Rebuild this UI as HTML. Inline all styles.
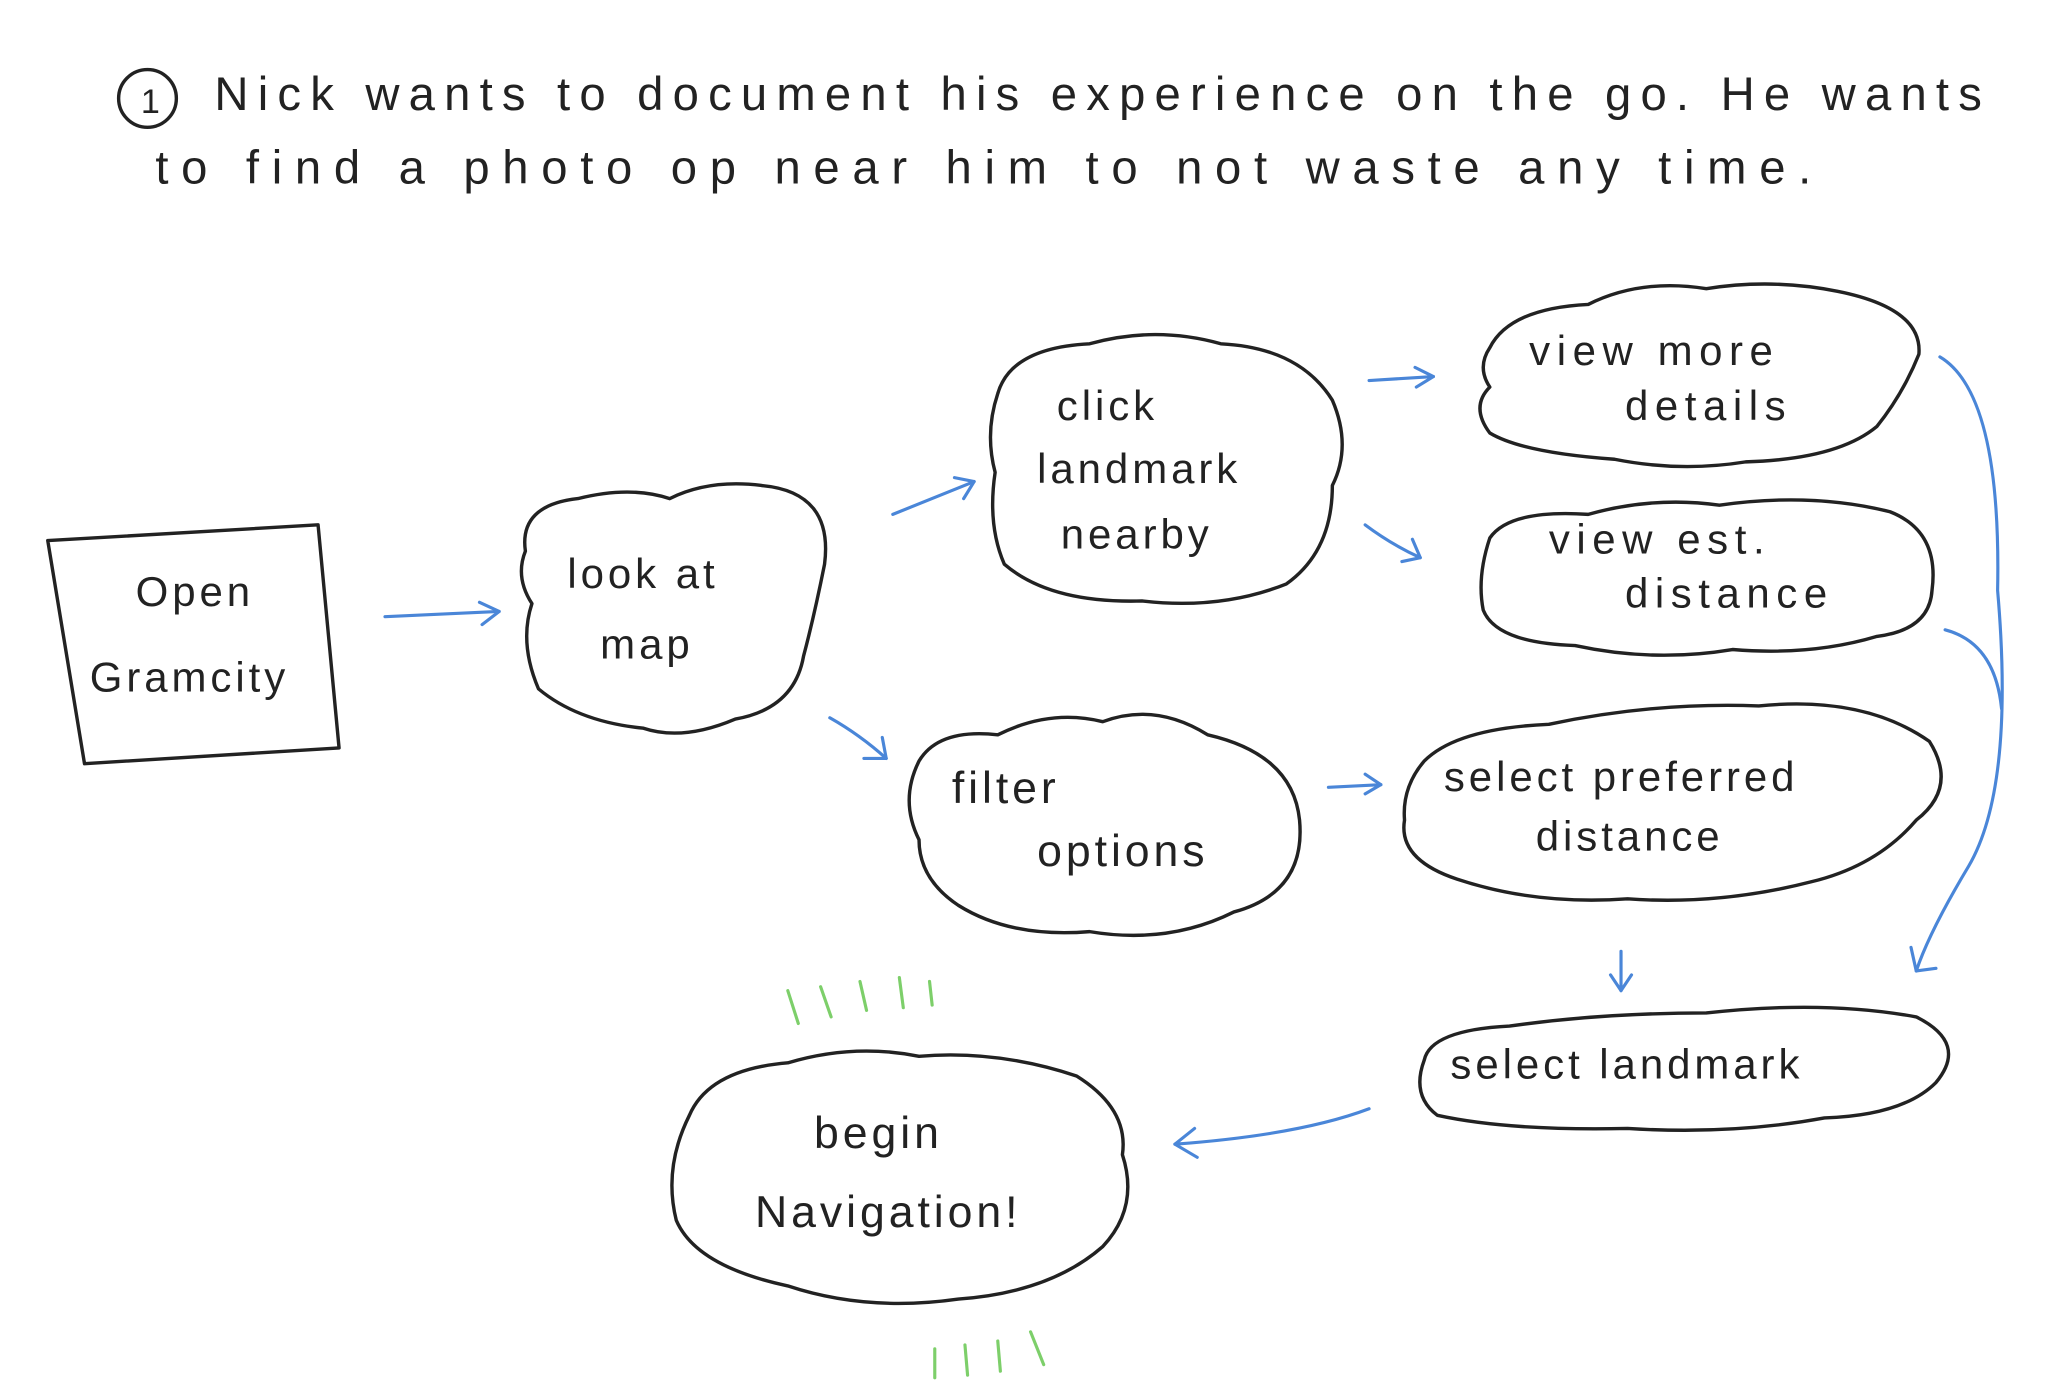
<!DOCTYPE html>
<html><head><meta charset="utf-8"><style>
html,body{margin:0;padding:0;background:#fff;}
svg{display:block}
text{font-family:"Liberation Sans",sans-serif;fill:#222;}
</style></head><body>
<svg width="2048" height="1383" viewBox="0 0 1560 1054" xmlns="http://www.w3.org/2000/svg">
<rect width="1560" height="1054" fill="#fff"/>
<g fill="none" stroke="#222" stroke-width="2.6" stroke-linejoin="round" stroke-linecap="round">
<circle cx="112" cy="75" r="22"/>
<path d="M36 412 L242 400 L258 570 L64 582 Z"/>
<path d="M400 420 Q395 385 440 380 Q480 370 510 380 Q540 365 580 370 Q635 375 628 430 Q620 470 612 500 Q605 540 560 548 Q520 565 490 555 Q440 550 410 525 Q395 490 405 460 Q392 440 400 420 Z"/>
<path d="M760 300 Q770 265 830 262 Q880 248 930 262 Q990 265 1015 305 Q1030 340 1015 370 Q1015 420 980 445 Q930 465 870 458 Q800 460 765 430 Q752 400 758 360 Q750 330 760 300 Z"/>
<path d="M1135 265 Q1150 235 1210 232 Q1250 212 1300 220 Q1350 212 1400 222 Q1465 235 1462 270 Q1450 300 1430 325 Q1400 350 1330 352 Q1280 360 1230 350 Q1160 345 1135 330 Q1120 310 1135 295 Q1125 280 1135 265 Z"/>
<path d="M1135 410 Q1150 388 1210 392 Q1260 378 1310 385 Q1380 375 1440 390 Q1478 405 1472 450 Q1470 480 1430 485 Q1380 500 1320 495 Q1260 505 1200 492 Q1140 490 1130 465 Q1125 440 1135 410 Z"/>
<path d="M700 580 Q715 555 760 560 Q800 540 840 550 Q880 535 920 560 Q985 575 990 625 Q995 680 940 695 Q890 720 830 710 Q770 715 730 690 Q700 670 700 640 Q685 610 700 580 Z"/>
<path d="M1085 580 Q1110 555 1180 552 Q1260 535 1340 538 Q1420 530 1470 565 Q1492 600 1460 625 Q1430 660 1380 672 Q1310 690 1240 685 Q1170 690 1110 670 Q1065 655 1070 625 Q1068 600 1085 580 Z"/>
<path d="M1085 808 Q1090 785 1150 782 Q1220 772 1300 772 Q1390 762 1460 775 Q1500 795 1475 825 Q1450 850 1390 852 Q1320 865 1240 860 Q1150 862 1095 850 Q1075 835 1085 808 Z"/>
<path d="M525 850 Q540 815 600 810 Q650 795 700 805 Q760 800 820 820 Q860 845 855 880 Q868 920 840 950 Q800 985 730 990 Q660 1000 600 980 Q530 965 515 930 Q505 890 525 850 Z"/>
</g>
<g fill="none" stroke="#4a86d8" stroke-width="2.4" stroke-linecap="round" stroke-linejoin="round">
<path d="M293 470 L380 466"/><path d="M365 459 L380 466 L367 476"/>
<path d="M680 392 L742 367"/><path d="M727 364 L742 367 L734 380"/>
<path d="M632 547 Q655 560 675 578"/><path d="M658 578 L675 578 L672 562"/>
<path d="M1043 290 L1092 287"/><path d="M1078 280 L1092 287 L1079 295"/>
<path d="M1040 400 Q1060 415 1082 425"/><path d="M1068 428 L1082 425 L1076 411"/>
<path d="M1012 600 L1052 598"/><path d="M1040 590 L1052 598 L1040 605"/>
<path d="M1235 725 L1235 755"/><path d="M1227 743 L1235 755 L1243 743"/>
<path d="M1478 272 Q1525 300 1522 450 Q1535 600 1500 660 Q1470 710 1460 740"/><path d="M1456 722 L1460 740 L1475 738"/>
<path d="M1482 480 Q1520 490 1525 540"/>
<path d="M1043 845 Q990 865 895 872"/><path d="M910 860 L895 872 L912 882"/>
</g>
<g stroke="#7dcf6a" stroke-width="2.4" stroke-linecap="round">
<path d="M600 755 L608 780"/><path d="M625 752 L633 775"/><path d="M655 748 L660 770"/><path d="M685 745 L688 768"/><path d="M708 748 L710 766"/>
<path d="M712 1028 L712 1050"/><path d="M735 1025 L737 1048"/><path d="M760 1022 L762 1045"/><path d="M785 1015 L795 1040"/>
</g>
<g font-size="34" letter-spacing="3">
<text x="107" y="86" font-size="26">1</text>
<text x="163" y="84" font-size="36" textLength="1350" lengthAdjust="spacing">Nick wants to document his experience on the go. He wants</text>
<text x="118" y="140" font-size="36" textLength="1265" lengthAdjust="spacing">to find a photo op near him to not waste any time.</text>
<text x="103" y="462" font-size="32">Open</text>
<text x="68" y="527" font-size="32">Gramcity</text>
<text x="432" y="448" font-size="32">look at</text>
<text x="457" y="502" font-size="32">map</text>
<text x="805" y="320" font-size="32">click</text>
<text x="790" y="368" font-size="32">landmark</text>
<text x="808" y="418" font-size="32">nearby</text>
<text x="1165" y="278" font-size="32" letter-spacing="5">view  more</text>
<text x="1238" y="320" font-size="32" letter-spacing="5">details</text>
<text x="1180" y="422" font-size="32" letter-spacing="5">view est.</text>
<text x="1238" y="463" font-size="32" letter-spacing="5">distance</text>
<text x="725" y="612" font-size="34">filter</text>
<text x="790" y="660" font-size="34">options</text>
<text x="1100" y="603" font-size="32">select preferred</text>
<text x="1170" y="648" font-size="32">distance</text>
<text x="1105" y="822" font-size="32">select landmark</text>
<text x="620" y="875" font-size="34">begin</text>
<text x="575" y="935" font-size="34">Navigation!</text>
</g>
</svg>
</body></html>
